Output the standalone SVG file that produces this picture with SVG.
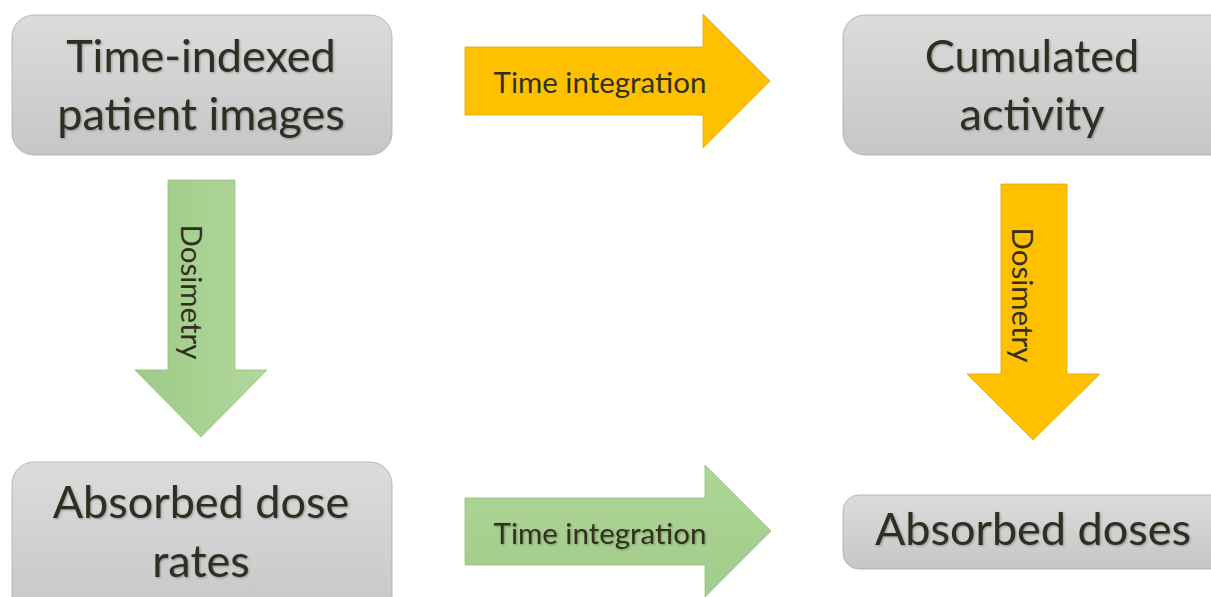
<svg xmlns="http://www.w3.org/2000/svg" width="1211" height="597" viewBox="0 0 1211 597">
  <defs>
    <linearGradient id="boxFill" x1="0" y1="0" x2="0" y2="1">
      <stop offset="0" stop-color="#dcdcdc"/>
      <stop offset="1" stop-color="#c6c6c6"/>
    </linearGradient>
    <linearGradient id="greenV" x1="0" y1="0" x2="1" y2="0">
      <stop offset="0" stop-color="#9fca88"/>
      <stop offset="1" stop-color="#b2d89c"/>
    </linearGradient>
    <linearGradient id="greenH" x1="0" y1="0" x2="0" y2="1">
      <stop offset="0" stop-color="#aed597"/>
      <stop offset="1" stop-color="#a2cc8b"/>
    </linearGradient>
    <filter id="soft" x="-10%" y="-20%" width="120%" height="140%">
      <feGaussianBlur in="SourceAlpha" stdDeviation="1.2"/>
      <feOffset dx="0.5" dy="1" result="b"/>
      <feFlood flood-color="#000" flood-opacity="0.3"/>
      <feComposite in2="b" operator="in"/>
      <feMerge>
        <feMergeNode/>
        <feMergeNode in="SourceGraphic"/>
      </feMerge>
    </filter>
  </defs>
  <style>
    .box { fill: url(#boxFill); stroke: #a9a9a9; stroke-width: 0.8; }
    .big { font-family: Lato, "Liberation Sans", sans-serif; font-size: 45px; fill: #2f2f22; text-anchor: middle; }
    .lbl { font-family: Lato, "Liberation Sans", sans-serif; font-size: 29.5px; fill: #30301f; text-anchor: middle; }
    .gold { fill: #ffc000; stroke: #d9a800; stroke-width: 0.8; }
    .greenv { fill: url(#greenV); stroke: #95bf7c; stroke-width: 0.8; }
    .greenh { fill: url(#greenH); stroke: #95bf7c; stroke-width: 0.8; }
  </style>
  <rect width="1211" height="597" fill="#ffffff"/>

  <!-- process steps -->
  <g id="node-images">
    <rect class="box" x="12" y="15" width="380" height="140" rx="22"/>
    <g filter="url(#soft)">
      <text class="big" x="201" y="72">Time-indexed</text>
      <text class="big" x="201" y="130">patient images</text>
    </g>
  </g>
  <g id="node-cumulated">
    <rect class="box" x="843" y="15" width="390" height="140" rx="22"/>
    <g filter="url(#soft)">
      <text class="big" x="1032" y="72">Cumulated</text>
      <text class="big" x="1032" y="130">activity</text>
    </g>
  </g>
  <g id="node-rates">
    <rect class="box" x="12" y="462" width="380" height="160" rx="22"/>
    <g filter="url(#soft)">
      <text class="big" x="201" y="518">Absorbed dose</text>
      <text class="big" x="201" y="577">rates</text>
    </g>
  </g>
  <g id="node-doses">
    <rect class="box" x="843" y="495" width="390" height="74" rx="16"/>
    <g filter="url(#soft)">
      <text class="big" x="1033" y="545">Absorbed doses</text>
    </g>
  </g>

  <!-- block arrows between steps -->
  <g id="connectors">
    <g id="arrow-time-top">
      <polygon class="gold" points="465,47 703,47 703,14 770,81 703,148 703,115 465,115"/>
      <text class="lbl" x="600" y="93">Time integration</text>
    </g>
    <g id="arrow-time-bottom">
      <polygon class="greenh" points="465,498 705,498 705,465 771,531 705,597 705,565 465,565"/>
      <g filter="url(#soft)">
        <text class="lbl" x="600" y="544">Time integration</text>
      </g>
    </g>
    <g id="arrow-dosimetry-left">
      <polygon class="greenv" points="168,180 235,180 235,370 267,370 201,437 135,370 168,370"/>
      <text class="lbl" transform="translate(181,292) rotate(90)" x="0" y="0">Dosimetry</text>
    </g>
    <g id="arrow-dosimetry-right">
      <polygon class="gold" points="1001,184 1067,184 1067,374 1100,374 1033,440 967,374 1001,374"/>
      <text class="lbl" transform="translate(1012,295) rotate(90)" x="0" y="0">Dosimetry</text>
    </g>
  </g>
</svg>
